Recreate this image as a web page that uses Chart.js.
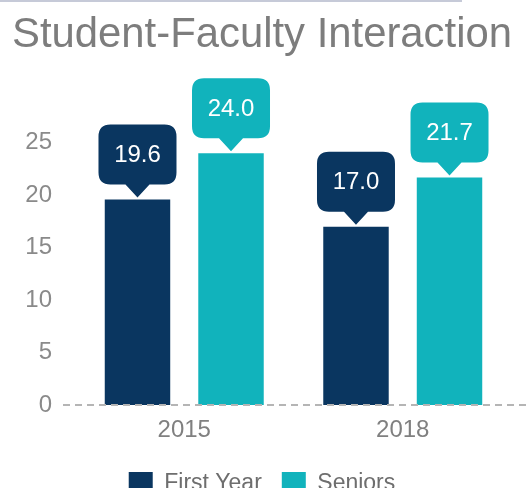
<!DOCTYPE html>
<html>
<head>
<meta charset="utf-8">
<script src="https://cdn.jsdelivr.net/npm/chart.js@4"></script>
<style>
html,body{margin:0;padding:0;background:#fff;overflow:hidden;}
#wrap{position:relative;width:530px;height:488px;overflow:hidden;}
#topline{position:absolute;left:0;top:0;width:462px;height:2px;background:#c6cad8;}
canvas{position:absolute;left:0;top:0;}
</style>
</head>
<body>
<div id="wrap">
<canvas id="c" width="530" height="506"></canvas>
<div id="topline"></div>
</div>
<script>
const titleText = 'Student-Faculty Interaction';
const categories = ['2015', '2018'];
const firstYear = [19.6, 17.0];
const seniors = [24.0, 21.7];
const yTickValues = [0, 5, 10, 15, 20, 25];
const seriesNames = ['First Year', 'Seniors'];

const NAVY = '#0a3660';
const TEAL = '#11b3bc';
const FONT = '"Liberation Sans", Arial, Helvetica, sans-serif';

const calloutPlugin = {
  id: 'callouts',
  afterDatasetsDraw(chart) {
    const ctx = chart.ctx;
    const yScale = chart.scales.y;
    const zeroY = yScale.getPixelForValue(0);
    ctx.save();
    ctx.setLineDash([7, 5]);
    ctx.strokeStyle = '#b5b5b5';
    ctx.lineWidth = 2;
    ctx.beginPath();
    ctx.moveTo(63, zeroY);
    ctx.lineTo(chart.width, zeroY);
    ctx.stroke();
    ctx.restore();

    chart.data.datasets.forEach((ds, di) => {
      const meta = chart.getDatasetMeta(di);
      meta.data.forEach((bar, i) => {
        const w = 78, h = 60, r = 12, ph = 13, pw = 12;
        const tipY = bar.y - 2;
        const bottom = tipY - ph;
        const top = bottom - h;
        const left = bar.x - w / 2;
        const right = bar.x + w / 2;
        ctx.save();
        ctx.fillStyle = ds.backgroundColor;
        ctx.beginPath();
        ctx.moveTo(left + r, top);
        ctx.lineTo(right - r, top);
        ctx.quadraticCurveTo(right, top, right, top + r);
        ctx.lineTo(right, bottom - r);
        ctx.quadraticCurveTo(right, bottom, right - r, bottom);
        ctx.lineTo(bar.x + pw, bottom);
        ctx.lineTo(bar.x, tipY);
        ctx.lineTo(bar.x - pw, bottom);
        ctx.lineTo(left + r, bottom);
        ctx.quadraticCurveTo(left, bottom, left, bottom - r);
        ctx.lineTo(left, top + r);
        ctx.quadraticCurveTo(left, top, left + r, top);
        ctx.closePath();
        ctx.fill();
        ctx.fillStyle = '#ffffff';
        ctx.font = '24px ' + FONT;
        ctx.textAlign = 'center';
        ctx.textBaseline = 'middle';
        ctx.fillText(ds.data[i].toFixed(1), bar.x, top + h / 2 + 1);
        ctx.restore();
      });
    });
  }
};

new Chart(document.getElementById('c'), {
  type: 'bar',
  data: {
    labels: categories,
    datasets: [
      { label: seriesNames[0], data: firstYear, backgroundColor: NAVY, borderWidth: 0 },
      { label: seriesNames[1], data: seniors, backgroundColor: TEAL, borderWidth: 0 }
    ]
  },
  options: {
    responsive: false,
    animation: false,
    events: [],
    categoryPercentage: 0.856,
    barPercentage: 0.70,
    layout: { padding: { left: 12, right: 18, top: 0, bottom: 0 } },
    plugins: {
      tooltip: { enabled: false },
      title: {
        display: true,
        text: titleText,
        color: '#7d7d7d',
        font: { family: FONT, size: 42, weight: 'normal' },
        padding: { top: 10, bottom: 30 }
      },
      legend: {
        display: true,
        position: 'bottom',
        labels: {
          boxWidth: 24,
          boxHeight: 24,
          padding: 20,
          color: '#6e6e6e',
          font: { family: FONT, size: 23 }
        }
      }
    },
    scales: {
      x: {
        grid: { display: false, drawTicks: false },
        border: { display: false },
        afterFit: (scale) => { scale.height = 47; },
        ticks: { color: '#808080', font: { family: FONT, size: 24 }, padding: 11 }
      },
      y: {
        min: 0,
        max: 30,
        grid: { display: false, drawTicks: false },
        border: { display: false },
        afterBuildTicks: (scale) => { scale.ticks = yTickValues.map(v => ({ value: v })); },
        afterFit: (scale) => { scale.width = 63; },
        ticks: { color: '#8a8a8a', font: { family: FONT, size: 24 }, padding: 23 }
      }
    }
  },
  plugins: [calloutPlugin]
});
</script>
</body>
</html>
